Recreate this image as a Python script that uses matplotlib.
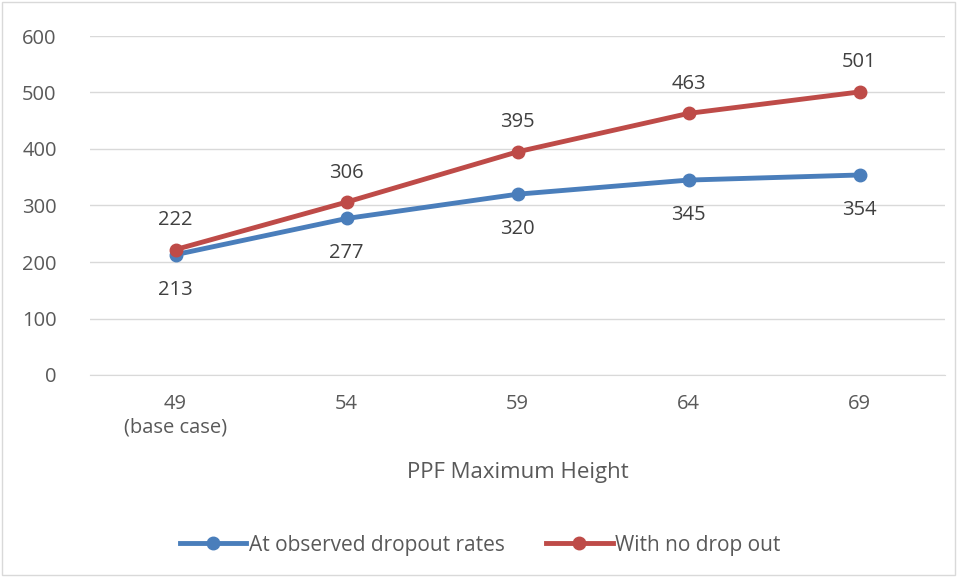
import matplotlib.pyplot as plt
from matplotlib.patches import Rectangle

heights = ["49\n(base case)", "54", "59", "64", "69"]
observed = [213, 277, 320, 345, 354]
no_dropout = [222, 306, 395, 463, 501]

plt.rcParams['font.family'] = ['Open Sans', 'DejaVu Sans']

fig = plt.figure(figsize=(9.6, 5.77), dpi=100)
ax = fig.add_axes([90 / 960, 202 / 577, (945 - 90) / 960, (375 - 36) / 577])

x = list(range(len(heights)))
blue = '#4A7EBB'
red = '#BE4B48'
ax.plot(x, observed, color=blue, lw=3.5, marker='o', ms=9, label='At observed dropout rates', zorder=3)
ax.plot(x, no_dropout, color=red, lw=3.5, marker='o', ms=9, label='With no drop out', zorder=4)

for i in x:
    ax.annotate(str(observed[i]), (i, observed[i]), xytext=(0, -18), textcoords='offset points',
                ha='center', va='top', fontsize=14.5, color='#404040')
    ax.annotate(str(no_dropout[i]), (i, no_dropout[i]), xytext=(0, 14), textcoords='offset points',
                ha='center', va='bottom', fontsize=14.5, color='#404040')

ax.set_xlim(-0.5, 4.5)
ax.set_ylim(0, 600)
ax.set_yticks(range(0, 601, 100))
ax.set_xticks(x)
ax.set_xticklabels(heights)
ax.tick_params(axis='both', length=0, labelsize=14.5, labelcolor='#595959')
ax.tick_params(axis='y', pad=24)
ax.tick_params(axis='x', pad=14)
ax.grid(axis='y', color='#D9D9D9', lw=1)
ax.set_axisbelow(True)
for s in ['top', 'right', 'left']:
    ax.spines[s].set_visible(False)
ax.spines['bottom'].set_color('#D9D9D9')

ax.set_xlabel('PPF Maximum Height', fontsize=16, color='#595959', labelpad=18)

fig.legend(loc='center', bbox_to_anchor=(0.5, 1 - 545 / 577), ncol=2, frameon=False,
           fontsize=15, labelcolor='#595959', handlelength=3.2, handletextpad=0.1, columnspacing=2.0)

fig.patches.append(Rectangle((0.002, 0.003), 0.993, 0.994, transform=fig.transFigure,
                             fill=False, edgecolor='#D9D9D9', lw=1))

fig.savefig('out.png', dpi=100)
